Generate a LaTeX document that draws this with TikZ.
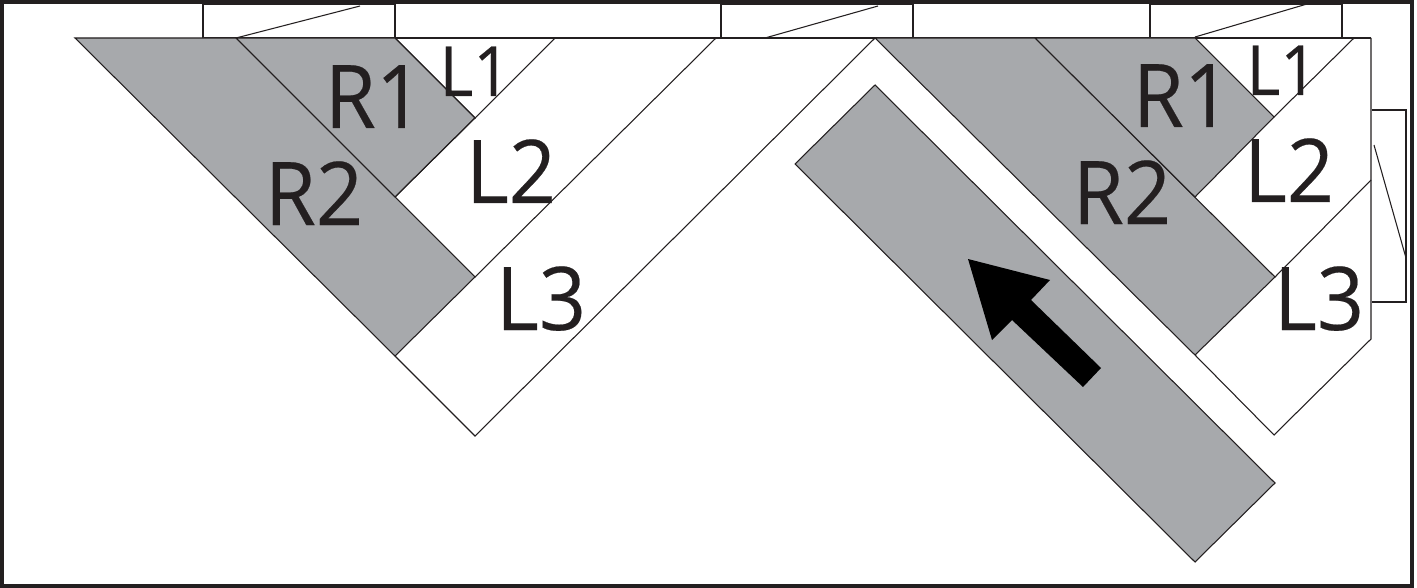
\documentclass[tikz,border=0pt]{standalone}
\usepackage{fontspec}
\setmainfont[FakeStretch=0.94,FakeBold=0.25]{Open Sans}
\definecolor{panel}{HTML}{A7A9AC}
\definecolor{ink}{HTML}{231F20}
\tikzset{
  pl/.style={draw=ink,line width=0.8pt,line join=miter},
  greyp/.style={pl,fill=panel},
  big/.style={text=ink,inner sep=0pt,anchor=base,font=\fontsize{66}{66}\selectfont},
  small/.style={text=ink,inner sep=0pt,anchor=base,font=\fontsize{52}{52}\selectfont}
}
\begin{document}
\begin{tikzpicture}[x=0.75pt,y=-0.75pt]
\useasboundingbox (0,0) rectangle (1417,588);
% frame
\draw[ink,line width=2.3pt] (2,2) rectangle (1412,586);
% small top doors
\draw[pl] (203,38) -- (203,4) -- (395,4) -- (395,38);
\draw[pl] (236,38) -- (360,6);
\draw[pl] (721,38) -- (721,4) -- (913,4) -- (913,38);
\draw[pl] (765,38) -- (878,6);
\draw[pl] (1150,38) -- (1150,4) -- (1342,4) -- (1342,38);
\draw[pl] (1195,37) -- (1307,4);
\draw[pl] (203,38) -- (1371,38);
% side door
\draw[pl] (1372,110) -- (1406,110) -- (1406,302) -- (1372,302);
\draw[pl] (1374,145) -- (1406,258);
% left assembly
\draw[greyp] (75,38) -- (236,38) -- (475,277) -- (395,356) -- cycle;
\draw[greyp] (236,38) -- (395,38) -- (475,118) -- (395,197) -- cycle;
\draw[pl] (395,38) -- (475,118) -- (555,38);
\draw[pl] (395,197) -- (475,118);
\draw[pl] (475,277) -- (716,38);
\draw[pl] (395,356) -- (475,436) -- (875,38);
% right assembly
\draw[greyp] (875,38) -- (1035,38) -- (1275,277) -- (1195,355) -- cycle;
\draw[greyp] (1035,38) -- (1195,38) -- (1274,117) -- (1195,197) -- cycle;
\draw[pl] (1274,117) -- (1354,38);
\draw[pl] (1275,277) -- (1371,180);
\draw[pl] (1371,38) -- (1371,339) -- (1274,435) -- (1195,355);
% sliding panel
\draw[greyp] (875,85) -- (1275,483) -- (1195,562) -- (795,164) -- cycle;
% arrow
\fill[black] (968,259) -- (1050,280) -- (1031,300) -- (1101,368) -- (1083,387) -- (1012,320) -- (992,340) -- cycle;
% labels
\node[big] (r1a) at (374,128) {R1};
\node[small] (l1a) at (475,96) {L1};
\node[big] (l2a) at (511,203) {L2};
\node[big] (r2a) at (314,225) {R2};
\node[big] (l3a) at (541,330) {L3};
\node[big] (r1b) at (1182,127) {R1};
\node[small] (l1b) at (1282,95) {L1};
\node[big] (l2b) at (1289,202) {L2};
\node[big] (r2b) at (1122,224) {R2};
\node[big] (l3b) at (1319,330) {L3};
\end{tikzpicture}
\end{document}
